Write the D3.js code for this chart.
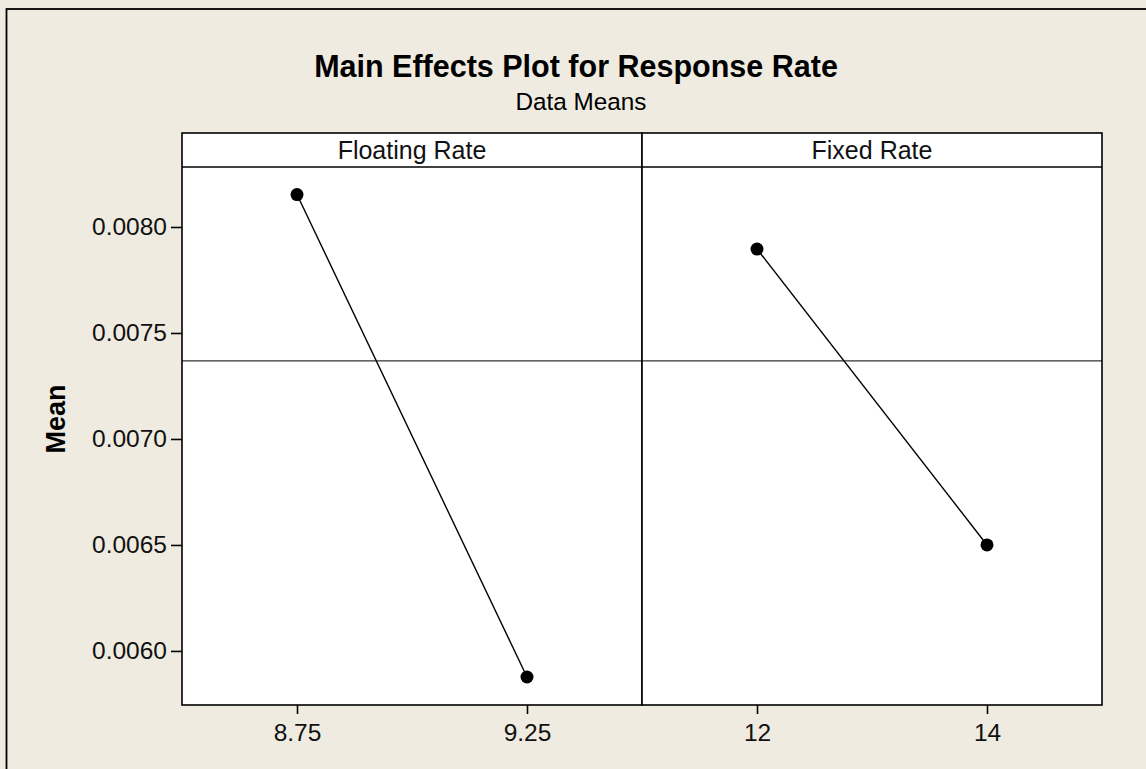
<!DOCTYPE html>
<html>
<head>
<meta charset="utf-8">
<script src="https://cdn.jsdelivr.net/npm/d3@7"></script>
<style>
  body { margin: 0; background: #efebe0; }
  svg { display: block; font-family: "Liberation Sans", Arial, sans-serif; }
</style>
</head>
<body>
<div id="chart"></div>
<script>
// factors, levels and the mean response at each level
const factors = ['Floating Rate', 'Fixed Rate'];
const floatingLevels = ['8.75', '9.25'];
const floatingMeans = [0.008153, 0.005877];
const fixedLevels = ['12', '14'];
const fixedMeans = [0.007896, 0.006500];
const grandMean = 0.007368;
const yTicks = [0.0060, 0.0065, 0.0070, 0.0075, 0.0080];
const yLimits = [0.005745, 0.008283];

const width = 1146;
const height = 769;
const panel = { left: 182, right: 1102, stripTop: 133, top: 167, bottom: 705 };
const panelW = (panel.right - panel.left) / factors.length;

const svg = d3.select('#chart')
  .append('svg')
  .attr('width', width)
  .attr('height', height);

svg.append('rect')
  .attr('width', width).attr('height', height)
  .attr('fill', '#efebe0');

// outer frame (runs off the right and bottom)
svg.append('rect')
  .attr('x', 6.5).attr('y', 9)
  .attr('width', 1300).attr('height', 900)
  .attr('fill', 'none')
  .attr('stroke', '#000')
  .attr('stroke-width', 1.8);

// titles
svg.append('text')
  .attr('x', 576).attr('y', 77)
  .attr('text-anchor', 'middle')
  .style('font-size', '30.5px').style('font-weight', 'bold')
  .text('Main Effects Plot for Response Rate');

svg.append('text')
  .attr('x', 581).attr('y', 110)
  .attr('text-anchor', 'middle')
  .style('font-size', '24.3px')
  .text('Data Means');

svg.append('text')
  .attr('transform', `translate(65, ${(panel.stripTop + panel.bottom) / 2}) rotate(-90)`)
  .attr('text-anchor', 'middle')
  .style('font-size', '27px').style('font-weight', 'bold')
  .text('Mean');

const yScale = d3.scaleLinear()
  .domain(yLimits)
  .range([panel.bottom, panel.top]);

const panels = [
  { name: factors[0], levels: floatingLevels, means: floatingMeans },
  { name: factors[1], levels: fixedLevels, means: fixedMeans }
];

panels.forEach((p, i) => {
  const x0 = panel.left + i * panelW;
  const g = svg.append('g');

  // strip
  g.append('rect')
    .attr('x', x0).attr('y', panel.stripTop)
    .attr('width', panelW).attr('height', panel.top - panel.stripTop)
    .attr('fill', '#fff');
  g.append('text')
    .attr('x', x0 + panelW / 2).attr('y', 158.5)
    .attr('text-anchor', 'middle')
    .style('font-size', '25px')
    .attr('fill', '#111')
    .text(p.name);

  // plot area
  g.append('rect')
    .attr('x', x0).attr('y', panel.top)
    .attr('width', panelW).attr('height', panel.bottom - panel.top)
    .attr('fill', '#fff');

  const xScale = d3.scalePoint()
    .domain(p.levels)
    .range([x0, x0 + panelW])
    .padding(0.5);

  // grand mean reference
  g.append('line')
    .attr('x1', x0).attr('x2', x0 + panelW)
    .attr('y1', yScale(grandMean)).attr('y2', yScale(grandMean))
    .attr('stroke', '#333')
    .attr('stroke-width', 1.3);

  const pts = p.levels.map((l, k) => ({ level: l, mean: p.means[k] }));

  g.append('path')
    .datum(pts)
    .attr('fill', 'none')
    .attr('stroke', '#000')
    .attr('stroke-width', 1.4)
    .attr('d', d3.line().x(d => xScale(d.level)).y(d => yScale(d.mean)));

  g.selectAll('circle')
    .data(pts)
    .enter().append('circle')
    .attr('cx', d => xScale(d.level))
    .attr('cy', d => yScale(d.mean))
    .attr('r', 6.5)
    .attr('fill', '#000');

  const xAxis = d3.axisBottom(xScale).tickSize(9).tickPadding(4);
  const gx = g.append('g')
    .attr('transform', `translate(0, ${panel.bottom})`)
    .call(xAxis);
  gx.select('.domain').remove();
  gx.selectAll('line').attr('stroke', '#000').attr('stroke-width', 1.6);
  gx.selectAll('text')
    .style('font-size', '24.5px')
    .style('font-family', '"Liberation Sans", Arial, sans-serif')
    .attr('fill', '#111')
    .attr('dy', null)
    .attr('y', 36);

  // panel borders
  g.append('rect')
    .attr('x', x0).attr('y', panel.stripTop)
    .attr('width', panelW).attr('height', panel.bottom - panel.stripTop)
    .attr('fill', 'none')
    .attr('stroke', '#000')
    .attr('stroke-width', 1.6);
  g.append('line')
    .attr('x1', x0).attr('x2', x0 + panelW)
    .attr('y1', panel.top).attr('y2', panel.top)
    .attr('stroke', '#000')
    .attr('stroke-width', 1.6);
});

// y axis on the left panel
const yAxis = d3.axisLeft(yScale)
  .tickValues(yTicks)
  .tickFormat(d3.format('.4f'))
  .tickSize(11)
  .tickPadding(4);

const gy = svg.append('g')
  .attr('transform', `translate(${panel.left}, 0)`)
  .call(yAxis);
gy.select('.domain').remove();
gy.selectAll('line').attr('stroke', '#000').attr('stroke-width', 1.6);
gy.selectAll('text')
  .style('font-size', '24.5px')
  .style('font-family', '"Liberation Sans", Arial, sans-serif')
  .attr('fill', '#111');
</script>
</body>
</html>
